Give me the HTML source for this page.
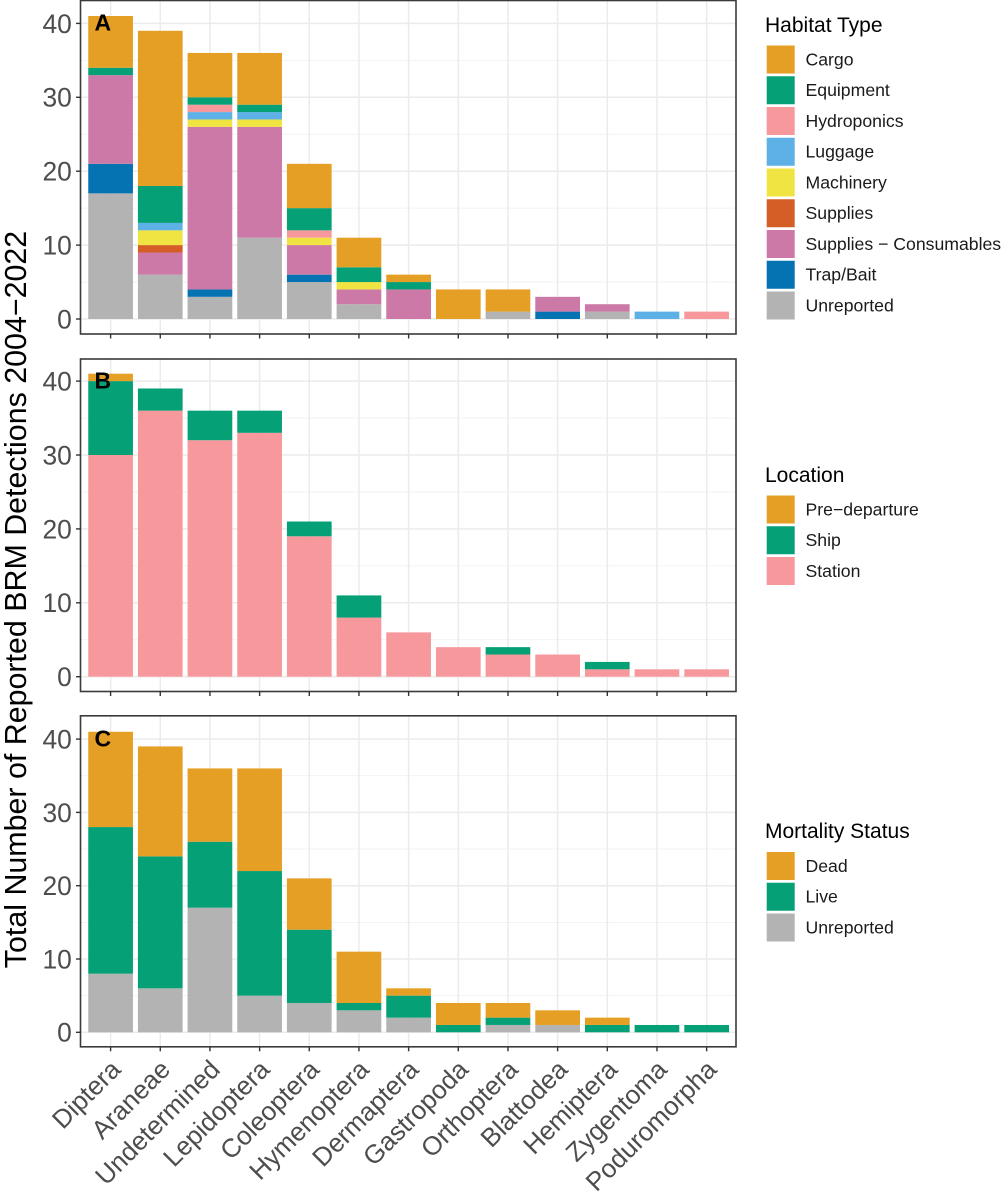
<!DOCTYPE html>
<html lang="en">
<head>
<meta charset="utf-8">
<title>BRM Detections 2004–2022</title>
<style>
  html, body { margin: 0; padding: 0; background: #fff; }
  svg { display: block; font-family: "Liberation Sans", Arial, sans-serif; }
</style>
</head>
<body>
<svg id="chart" xmlns="http://www.w3.org/2000/svg" width="1003" height="1200" viewBox="0 0 1003 1200">
  <rect x="0" y="0" width="1003" height="1200" fill="#ffffff"/>
  <text transform="translate(26,599.5) rotate(-90)" text-anchor="middle" font-size="30.4" fill="#000">Total Number of Reported BRM Detections 2004−2022</text>
</svg>
<script>
const categories = ['Diptera','Araneae','Undetermined','Lepidoptera','Coleoptera','Hymenoptera','Dermaptera','Gastropoda','Orthoptera','Blattodea','Hemiptera','Zygentoma','Poduromorpha'];
const yTickLabels = [0, 10, 20, 30, 40];

const habitatNames = ['Cargo','Equipment','Hydroponics','Luggage','Machinery','Supplies','Supplies − Consumables','Trap/Bait','Unreported'];
const habitatColors = ['#E69F25','#06A077','#F7999C','#5DB1E6','#F0E442','#D55E27','#CC79A7','#0572B2','#B3B3B3'];
const cargoCounts       = [7,21,6,7,6,4,1,4,3,0,0,0,0];
const equipmentCounts   = [1,5,1,1,3,2,1,0,0,0,0,0,0];
const hydroponicsCounts = [0,0,1,0,1,0,0,0,0,0,0,0,1];
const luggageCounts     = [0,1,1,1,0,0,0,0,0,0,0,1,0];
const machineryCounts   = [0,2,1,1,1,1,0,0,0,0,0,0,0];
const suppliesCounts    = [0,1,0,0,0,0,0,0,0,0,0,0,0];
const consumablesCounts = [12,3,22,15,4,2,4,0,0,2,1,0,0];
const trapBaitCounts    = [4,0,1,0,1,0,0,0,0,1,0,0,0];
const habitatUnreported = [17,6,3,11,5,2,0,0,1,0,1,0,0];

const locationNames = ['Pre−departure','Ship','Station'];
const locationColors = ['#E69F25','#06A077','#F7999C'];
const preDepartureCounts = [1,0,0,0,0,0,0,0,0,0,0,0,0];
const shipCounts         = [10,3,4,3,2,3,0,0,1,0,1,0,0];
const stationCounts      = [30,36,32,33,19,8,6,4,3,3,1,1,1];

const mortalityNames = ['Dead','Live','Unreported'];
const mortalityColors = ['#E69F25','#06A077','#B3B3B3'];
const deadCounts       = [13,15,10,14,7,7,1,3,2,2,1,0,0];
const liveCounts       = [20,18,9,17,10,1,3,1,1,0,1,1,1];
const mortalityUnreported = [8,6,17,5,4,3,2,0,1,1,0,0,0];

const panels = [
  { key:'a', letter:'A', top:0.5, bottom:334, y0:319, unitPx:7.39, names:habitatNames, colors:habitatColors,
    series:[cargoCounts,equipmentCounts,hydroponicsCounts,luggageCounts,machineryCounts,suppliesCounts,consumablesCounts,trapBaitCounts,habitatUnreported],
    legendTitleY:32, legendTop:45.5 },
  { key:'b', letter:'B', top:359, bottom:691.5, y0:676.7, unitPx:7.39, names:locationNames, colors:locationColors,
    series:[preDepartureCounts,shipCounts,stationCounts],
    legendTitleY:482, legendTop:495.5 },
  { key:'c', letter:'C', top:715.8, bottom:1046.8, y0:1032.3, unitPx:7.33, names:mortalityNames, colors:mortalityColors,
    series:[deadCounts,liveCounts,mortalityUnreported],
    legendTitleY:838, legendTop:852 }
];

const NS = 'http://www.w3.org/2000/svg';
const svg = document.getElementById('chart');
const panelLeft = 80.5, panelRight = 736;
const bandStep = 49.67, firstBand = 110.6, barWidth = 44.7;
const xScale = i => firstBand + i * bandStep;

function make(parent, tag, attrs, text) {
  const el = document.createElementNS(NS, tag);
  for (const k in attrs) el.setAttribute(k, attrs[k]);
  if (text !== undefined) el.textContent = text;
  parent.appendChild(el);
  return el;
}

panels.forEach(function (p, pi) {
  const yScale = v => p.y0 - v * p.unitPx;
  const g = make(svg, 'g', {});
  
  

  // minor horizontal grid
  yTickLabels.slice(0, -1).forEach(function (t, ti) {
    const mid = (t + yTickLabels[ti + 1]) / 2;
    const line = make(g, 'line', { x1:panelLeft, x2:panelRight, y1:yScale(mid), y2:yScale(mid), stroke:'#efefef', 'stroke-width':0.8 });
    
    
  });
  // major horizontal grid
  yTickLabels.forEach(function (t) {
    const line = make(g, 'line', { x1:panelLeft, x2:panelRight, y1:yScale(t), y2:yScale(t), stroke:'#ebebeb', 'stroke-width':1.5 });
    
    
  });
  // vertical grid
  categories.forEach(function (c, i) {
    const line = make(g, 'line', { x1:xScale(i), x2:xScale(i), y1:p.top, y2:p.bottom, stroke:'#ebebeb', 'stroke-width':1.5 });
    
    
  });

  // stacked bars: the last series sits at the bottom of the stack
  categories.forEach(function (c, i) {
    let base = 0;
    for (let s = p.series.length - 1; s >= 0; s--) {
      const v = p.series[s][i];
      if (!v) continue;
      const rect = make(g, 'rect', {
        x: xScale(i) - barWidth / 2,
        y: yScale(base + v),
        width: barWidth,
        height: v * p.unitPx,
        fill: p.colors[s]
      });
      
      
      base += v;
    }
  });

  // panel border
  const border = make(g, 'rect', { x:panelLeft, y:p.top, width:panelRight - panelLeft, height:p.bottom - p.top, fill:'none', stroke:'#3a3a3a', 'stroke-width':1.6 });
  
  

  // y ticks and labels
  yTickLabels.forEach(function (t) {
    const tick = make(g, 'line', { x1:panelLeft - 4.5, x2:panelLeft, y1:yScale(t), y2:yScale(t), stroke:'#333', 'stroke-width':1.4 });
    
    
    const label = make(g, 'text', { x:71.8, y:yScale(t) + 9.4, 'text-anchor':'end', 'font-size':26.4, fill:'#4d4d4d' }, String(t));
    
    
  });

  // x ticks
  categories.forEach(function (c, i) {
    const tick = make(g, 'line', { x1:xScale(i), x2:xScale(i), y1:p.bottom, y2:p.bottom + 4.5, stroke:'#333', 'stroke-width':1.4 });
    
    
  });

  // panel letter
  const letter = make(g, 'text', { x:94.5, y:yScale(40) + 7.2, 'font-size':23, 'font-weight':'bold', fill:'#000' }, p.letter);
  
  

  // legend
  const lg = make(svg, 'g', {});
  
  
  const title = make(lg, 'text', { x:765, y:p.legendTitleY, 'font-size':21, fill:'#000' }, ['Habitat Type','Location','Mortality Status'][pi]);
  
  
  p.names.forEach(function (n, i) {
    const cy = p.legendTop + 14 + i * 30.75;
    const swatch = make(lg, 'rect', { x:766.7, y:cy - 14, width:28, height:28, fill:p.colors[i] });
    
    
    const text = make(lg, 'text', { x:805.5, y:cy + 5.8, 'font-size':17.65, fill:'#1a1a1a' }, n);
    
    
  });
});

// x tick labels under the bottom panel
categories.forEach(function (c, i) {
  const ax = xScale(i) + 11.5, ay = 1071;
  const label = make(svg, 'text', { x:ax, y:ay, 'text-anchor':'end', 'font-size':26, fill:'#4d4d4d', transform:'rotate(-45 ' + ax + ' ' + ay + ')' }, c);
  
  
});
</script>
</body>
</html>
